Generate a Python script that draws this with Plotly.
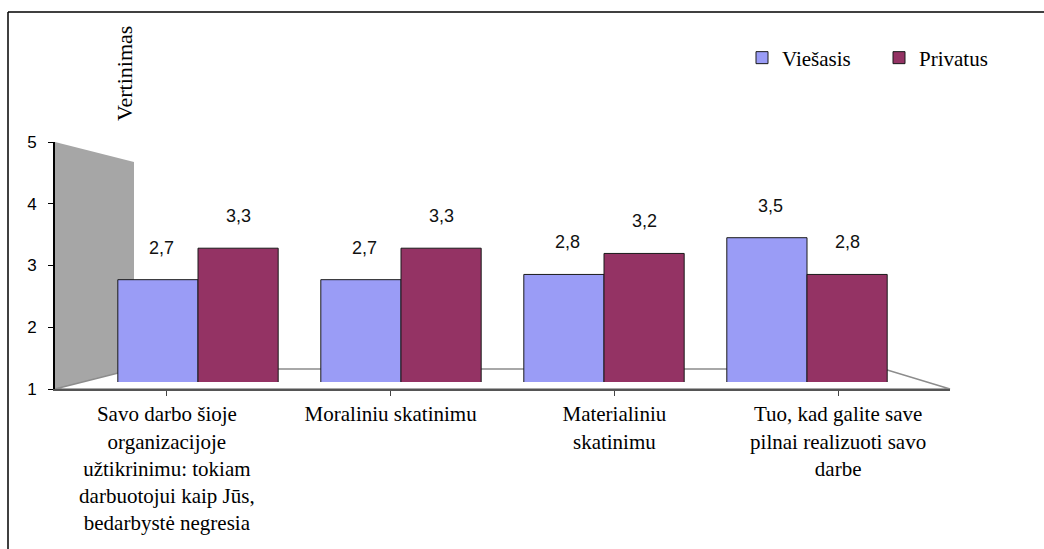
import plotly.graph_objects as go

categories = [
    "Savo darbo šioje<br>organizacijoje<br>užtikrinimu: tokiam<br>darbuotojui kaip Jūs,<br>bedarbystė negresia",
    "Moraliniu skatinimu",
    "Materialiniu<br>skatinimu",
    "Tuo, kad galite save<br>pilnai realizuoti savo<br>darbe",
]
viesasis = [2.7, 2.7, 2.8, 3.5]
privatus = [3.3, 3.3, 3.2, 2.8]
series_names = ["Viešasis", "Privatus"]
series_colors = ["#9a9cf6", "#943364"]
y_ticks = [1, 2, 3, 4, 5]
y_title = "Vertinimas"

SERIF = '"Liberation Serif", "Times New Roman", "DejaVu Serif", serif'
SANS = '"Liberation Sans", Arial, sans-serif'

W, H = 1044, 549


def px(x, y):
    return x / W, (H - y) / H


idx = list(range(len(categories)))

fig = go.Figure()

# invisible trace on the front axes to carry category labels
fig.add_trace(go.Scatter(x=idx, y=[None] * len(idx), xaxis="x", yaxis="y",
                         showlegend=False, hoverinfo="skip"))

for name, vals, col in zip(series_names, [viesasis, privatus], series_colors):
    fig.add_trace(go.Bar(
        x=idx, y=vals, name=name, xaxis="x2", yaxis="y2",
        marker=dict(color=col, line=dict(color="#1a1a1a", width=1)),
    ))

# value labels
ann = []
for vals, sh in zip([viesasis, privatus], [-37, 40]):
    for i, v in zip(idx, vals):
        ann.append(dict(x=i, y=v, xref="x2", yref="y2", xshift=sh, yshift=20,
                        yanchor="bottom", showarrow=False,
                        text=f"{v:.1f}".replace(".", ","),
                        font=dict(family=SANS, size=18, color="#111")))

tx, ty = px(124, 74)
ann.append(dict(x=tx, y=ty, xref="paper", yref="paper", text=y_title, textangle=-90,
                showarrow=False, xanchor="center", yanchor="middle",
                font=dict(family=SERIF, size=22, color="black")))

shapes = []


def path(points):
    s = ""
    for j, (x, y) in enumerate(points):
        a, b = px(x, y)
        s += ("M" if j == 0 else "L") + f"{a:.5f},{b:.5f}"
    return s + "Z"


# back wall
shapes.append(dict(type="path", xref="paper", yref="paper", layer="below",
                   path=path([(55, 142), (134, 162), (134, 369), (55, 389)]),
                   fillcolor="#a6a6a6", line=dict(width=0)))
# floor
shapes.append(dict(type="path", xref="paper", yref="paper", layer="below",
                   path=path([(55, 389), (134, 369), (884, 369), (950, 389)]),
                   fillcolor="white", line=dict(color="#8c8c8c", width=1.5)))
# outer border (top + left)
x0, y0 = px(8, 12)
shapes.append(dict(type="line", xref="paper", yref="paper", x0=x0, y0=y0, x1=1, y1=y0,
                   line=dict(color="black", width=1.5)))
shapes.append(dict(type="line", xref="paper", yref="paper", x0=x0, y0=y0, x1=x0, y1=0,
                   line=dict(color="black", width=1.5)))

xd = [55 / W, 950 / W]
yd = [(H - 389) / H, (H - 142) / H]
x2d = [96.5 / W, 908.5 / W]
y2d = [(H - 382) / H, (H - 159) / H]

lx, ly = px(742, 58)

fig.update_layout(
    width=W, height=H,
    margin=dict(l=0, r=0, t=0, b=0),
    paper_bgcolor="white", plot_bgcolor="rgba(0,0,0,0)",
    barmode="group", bargap=0.21, bargroupgap=0,
    showlegend=True,
    legend=dict(orientation="h", x=lx, y=ly, xanchor="left", yanchor="middle",
                entrywidth=92, entrywidthmode="pixels",
                font=dict(family=SERIF, size=21, color="black"),
                bgcolor="rgba(0,0,0,0)", traceorder="normal"),
    xaxis=dict(domain=xd, range=[-0.5, 3.5], tickmode="array", tickvals=idx,
               ticktext=categories, tickson="boundaries", ticks="outside", ticklen=5,
               tickcolor="#444", showline=True, linecolor="#555", linewidth=2,
               showgrid=False, zeroline=False, fixedrange=True, automargin=False,
               tickfont=dict(family=SERIF, size=21, color="black")),
    yaxis=dict(domain=yd, range=[1, 5], tickvals=y_ticks, ticks="outside", ticklen=5,
               tickcolor="black", showline=True, linecolor="black", linewidth=2,
               ticklabelstandoff=8,
               showgrid=False, zeroline=False, automargin=False,
               tickfont=dict(family=SANS, size=17, color="black")),
    xaxis2=dict(domain=x2d, range=[-0.5, 3.5], anchor="y2", visible=False, fixedrange=True),
    yaxis2=dict(domain=y2d, range=[0.75, 5], anchor="x2", visible=False),
    annotations=ann,
    shapes=shapes,
)

fig.write_html("out.html")
